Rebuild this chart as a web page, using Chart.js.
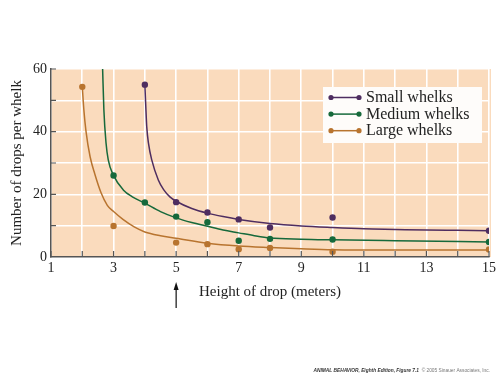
<!DOCTYPE html>
<html>
<head>
<meta charset="utf-8">
<script src="https://cdn.jsdelivr.net/npm/chart.js@4/dist/chart.umd.min.js"></script>
<style>
  html, body { margin: 0; padding: 0; background: #fff; }
  #wrap { width: 504px; height: 378px; }
</style>
</head>
<body>
<div id="wrap"><canvas id="chart1" width="504" height="378"></canvas></div>
<script>
// observed points (height of drop in m, drops per whelk)
const smallX = [4, 5, 6, 7, 8, 10, 15];
const smallY = [55, 17.5, 14.2, 12.0, 9.4, 12.6, 8.4];
const mediumX = [3, 4, 5, 6, 7, 8, 10, 15];
const mediumY = [26, 17.4, 12.9, 11.1, 5.2, 5.8, 5.6, 4.8];
const largeX = [2, 3, 5, 6, 7, 8, 10, 15];
const largeY = [54.3, 9.9, 4.6, 4.1, 2.5, 2.9, 1.7, 2.4];

// fitted curves
const smallCurveX = [4, 4.03, 4.06, 4.12, 4.22, 4.43, 4.6, 4.8, 5, 5.5, 6, 6.5, 7, 8, 9, 10, 11, 12, 13, 14, 15];
const smallCurveY = [55, 48, 41.6, 36, 31, 24.6, 21.5, 19.2, 17.8, 15.5, 14, 12.9, 12, 10.7, 9.9, 9.4, 9, 8.8, 8.6, 8.5, 8.4];
const mediumCurveX = [2.65, 2.69, 2.76, 2.83, 2.99, 3.31, 3.6, 4, 4.5, 5, 5.5, 6, 6.5, 7, 7.5, 8, 9, 10, 12, 15];
const mediumCurveY = [60, 47, 36.3, 31, 26.2, 21.4, 19.2, 17.2, 14.5, 12.5, 11, 9.8, 8.6, 7.7, 6.8, 6.1, 5.7, 5.5, 5.2, 4.8];
const largeCurveX = [2, 2.05, 2.12, 2.25, 2.4, 2.6, 2.8, 3, 3.3, 3.66, 4, 4.5, 5, 6, 7, 8, 9, 10, 12, 15];
const largeCurveY = [54.3, 47, 40, 32, 26.5, 20.5, 16.5, 14.5, 12, 9.6, 8, 6.8, 6, 4.4, 3.5, 3, 2.6, 2.3, 2.2, 2.2];

const seriesNames = ['Small whelks', 'Medium whelks', 'Large whelks'];
const seriesColors = ['#4e2d60', '#16693b', '#b8742f'];

const xTickLabels = [1, 3, 5, 7, 9, 11, 13, 15];
const yTickLabels = [0, 20, 40, 60];
const arrowAt = 5;
const footerBold = 'ANIMAL BEHAVIOR, Eighth Edition, Figure 7.1';
const footerPlain = '  \u00A9 2005 Sinauer Associates, Inc.';

const serif = '"Liberation Serif", "Times New Roman", serif';

function pts(xs, ys) {
  return xs.map((x, i) => ({x: x, y: ys[i]}));
}

const pointSets = [pts(smallX, smallY), pts(mediumX, mediumY), pts(largeX, largeY)];
const curveSets = [pts(smallCurveX, smallCurveY), pts(mediumCurveX, mediumCurveY), pts(largeCurveX, largeCurveY)];

let datasets = [];
for (let i = 0; i < 3; i++) {
  datasets.push({
    label: seriesNames[i],
    data: pointSets[i],
    showLine: false,
    backgroundColor: seriesColors[i],
    borderColor: seriesColors[i],
    pointRadius: 3.2,
    pointBorderWidth: 0,
    order: 0
  });
  datasets.push({
    label: seriesNames[i] + ' fit',
    data: curveSets[i],
    showLine: true,
    cubicInterpolationMode: 'monotone',
    borderColor: seriesColors[i],
    borderWidth: 1.5,
    pointRadius: 0,
    order: 1
  });
}

// peach plot background
const plotBg = {
  id: 'plotBg',
  beforeDraw(chart) {
    const {ctx, chartArea: a} = chart;
    ctx.save();
    ctx.fillStyle = '#fadbbd';
    ctx.fillRect(a.left, a.top, a.right - a.left + 2, a.bottom - a.top);
    ctx.restore();
  }
};

// inward tick marks, legend, arrow, footer
const extras = {
  id: 'extras',
  afterDraw(chart) {
    const {ctx, chartArea: a} = chart;
    const xs = chart.scales.x, ys = chart.scales.y;
    ctx.save();
    ctx.strokeStyle = '#555';
    ctx.lineWidth = 1.2;
    ctx.beginPath();
    for (let v = 1; v <= 15; v++) {
      const px = xs.getPixelForValue(v);
      ctx.moveTo(px, a.bottom);
      ctx.lineTo(px, a.bottom - 6);
    }
    for (let v = 10; v <= 60; v += 10) {
      const py = ys.getPixelForValue(v);
      ctx.moveTo(a.left, py);
      ctx.lineTo(a.left + 5, py);
    }
    ctx.stroke();

    // legend box
    const bx = a.right - 166, by = a.top + 18;
    ctx.fillStyle = '#fefcfa';
    ctx.fillRect(bx, by, 159, 56);
    ctx.font = '16px ' + serif;
    ctx.textBaseline = 'middle';
    for (let i = 0; i < 3; i++) {
      const ry = by + 10.5 + i * 16.6;
      ctx.strokeStyle = seriesColors[i];
      ctx.fillStyle = seriesColors[i];
      ctx.lineWidth = 1.5;
      ctx.beginPath();
      ctx.moveTo(bx + 8, ry);
      ctx.lineTo(bx + 36, ry);
      ctx.stroke();
      ctx.beginPath();
      ctx.arc(bx + 8, ry, 2.6, 0, Math.PI * 2);
      ctx.arc(bx + 36, ry, 2.6, 0, Math.PI * 2);
      ctx.fill();
      ctx.fillStyle = '#222';
      ctx.fillText(seriesNames[i], bx + 43, ry + 0.5);
    }

    // arrow under x = 5
    const ax = xs.getPixelForValue(arrowAt);
    ctx.strokeStyle = '#111';
    ctx.fillStyle = '#111';
    ctx.lineWidth = 1.2;
    ctx.beginPath();
    ctx.moveTo(ax, 308);
    ctx.lineTo(ax, 288);
    ctx.stroke();
    ctx.beginPath();
    ctx.moveTo(ax, 282);
    ctx.lineTo(ax - 2.5, 290);
    ctx.lineTo(ax + 2.5, 290);
    ctx.closePath();
    ctx.fill();

    // footer credit
    ctx.textBaseline = 'middle';
    ctx.fillStyle = '#333';
    ctx.font = 'italic bold 4.8px "Liberation Sans", Arial, sans-serif';
    const w1 = ctx.measureText(footerBold).width;
    ctx.font = '4.8px "Liberation Sans", Arial, sans-serif';
    const w2 = ctx.measureText(footerPlain).width;
    const fx = 490 - w1 - w2;
    ctx.font = 'italic bold 4.8px "Liberation Sans", Arial, sans-serif';
    ctx.fillText(footerBold, fx, 371);
    ctx.fillStyle = '#777';
    ctx.font = '4.8px "Liberation Sans", Arial, sans-serif';
    ctx.fillText(footerPlain, fx + w1, 371);
    ctx.restore();
  }
};

const ctx = document.getElementById('chart1').getContext('2d');

const chart1 = new Chart(ctx, {
  type: 'scatter',
  data: { datasets: datasets },
  plugins: [plotBg, extras],
  options: {
    responsive: false,
    animation: false,
    events: [],
    layout: { padding: { left: 0, right: 15, top: 69, bottom: 0 } },
    plugins: {
      legend: { display: false },
      tooltip: { enabled: false },
      title: { display: false }
    },
    scales: {
      x: {
        type: 'linear',
        min: 1,
        max: 15,
        afterFit: function(scale) { scale.height = 121; },
        grid: { color: '#ffffff', lineWidth: 1.6, drawTicks: false },
        border: { color: '#555', width: 1.5 },
        ticks: {
          stepSize: 1,
          autoSkip: false,
          maxRotation: 0,
          padding: 3,
          color: '#222',
          font: { family: serif, size: 14 },
          callback: function(value) {
            return xTickLabels.includes(value) ? String(value) : '';
          }
        },
        title: {
          display: true,
          text: 'Height of drop (meters)',
          color: '#222',
          font: { family: serif, size: 15 },
          padding: { top: 0, bottom: 77 }
        }
      },
      y: {
        type: 'linear',
        min: 0,
        max: 60,
        afterFit: function(scale) { scale.width = 51; },
        grid: { color: '#ffffff', lineWidth: 1.6, drawTicks: false },
        border: { color: '#555', width: 1.5 },
        ticks: {
          stepSize: 10,
          autoSkip: false,
          padding: 4,
          color: '#222',
          font: { family: serif, size: 14 },
          callback: function(value) {
            return yTickLabels.includes(value) ? String(value) : '';
          }
        },
        title: {
          display: true,
          text: 'Number of drops per whelk',
          color: '#222',
          font: { family: serif, size: 15 },
          padding: { top: 8, bottom: 0 }
        }
      }
    }
  }
});
</script>
</body>
</html>
